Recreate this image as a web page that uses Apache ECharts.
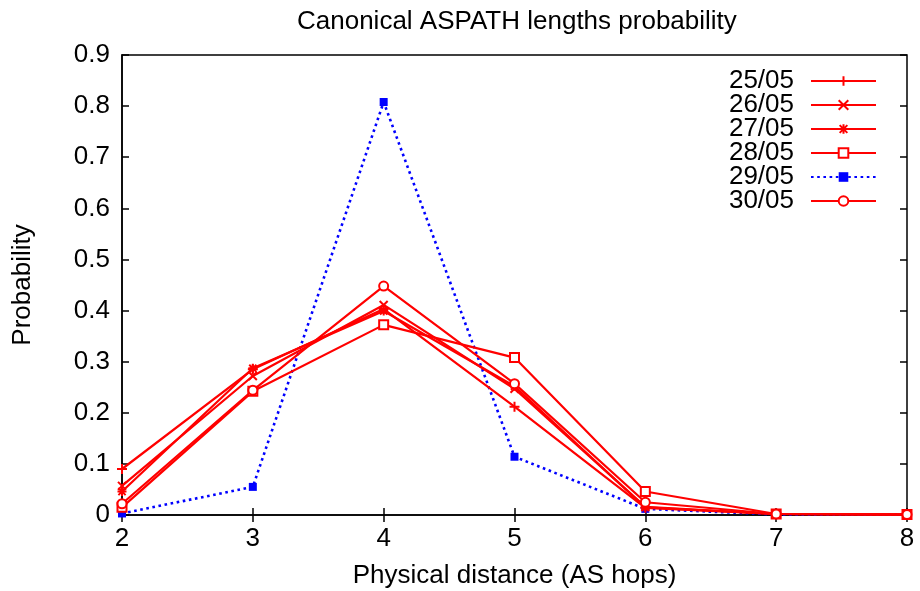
<!DOCTYPE html>
<html><head><meta charset="utf-8">
<script src="https://cdn.jsdelivr.net/npm/echarts@6/dist/echarts.min.js"></script>
<style>html,body{margin:0;padding:0;background:#fff}#c{width:920px;height:591px}</style>
</head><body><div id="c"></div>
<script>
const hops = [2, 3, 4, 5, 6, 7, 8];
const s2505 = [0.090, 0.285, 0.403, 0.212, 0.014, 0.002, 0.001];
const s2605 = [0.057, 0.272, 0.411, 0.247, 0.016, 0.002, 0.001];
const s2705 = [0.046, 0.287, 0.399, 0.252, 0.015, 0.002, 0.001];
const s2805 = [0.015, 0.242, 0.372, 0.308, 0.046, 0.002, 0.001];
const s2905 = [0.003, 0.055, 0.808, 0.114, 0.012, 0.001, 0.001];
const s3005 = [0.022, 0.244, 0.448, 0.257, 0.025, 0.002, 0.001];
const names = ['25/05', '26/05', '27/05', '28/05', '29/05', '30/05'];
const yTicks = [0, 0.1, 0.2, 0.3, 0.4, 0.5, 0.6, 0.7, 0.8, 0.9];

const RED = '#ff0000', BLUE = '#0000ff';
const FONT = 'Liberation Sans';
const plusSym = 'path://M0,5L10,5M5,0L5,10';
const crossSym = 'path://M0,0L10,10M10,0L0,10';
const starSym = 'path://M0,5L10,5M5,0L5,10M1,1L9,9M9,1L1,9';

function pairs(arr){ return hops.map((h,i)=>[h, arr[i]]); }
function redSeries(name, arr, symbol, size, fill){
  return {
    name, type: 'line', data: pairs(arr), symbol, symbolSize: size,
    color: RED,
    lineStyle: {color: RED, width: 2.2},
    itemStyle: {color: fill, borderColor: RED, borderWidth: 2},
    emphasis: {disabled: true}, animation: false, z: 3
  };
}
const series = [
  redSeries(names[0], s2505, plusSym, 10, 'rgba(0,0,0,0)'),
  redSeries(names[1], s2605, crossSym, 8, 'rgba(0,0,0,0)'),
  redSeries(names[2], s2705, starSym, 9, 'rgba(0,0,0,0)'),
  redSeries(names[3], s2805, 'rect', 9, '#ffffff'),
  {
    name: names[4], type: 'line', data: pairs(s2905), symbol: 'rect', symbolSize: 8,
    color: BLUE,
    lineStyle: {color: BLUE, width: 2.6, type: [2.6, 3.6]},
    itemStyle: {color: BLUE, borderColor: BLUE, borderWidth: 0},
    emphasis: {disabled: true}, animation: false, z: 2
  },
  redSeries(names[5], s3005, 'circle', 9, '#ffffff')
];

const chart = echarts.init(document.getElementById('c'), null, {renderer: 'canvas'});
const axisFont = {fontFamily: FONT, fontSize: 26, color: '#000'};
chart.setOption({
  animation: false,
  backgroundColor: '#fff',
  title: {text: 'Canonical ASPATH lengths probability', left: 292, top: 4,
    textStyle: {fontFamily: FONT, fontSize: 26, fontWeight: 'normal', color: '#000'}},
  grid: {left: 122, right: 13, top: 55, bottom: 76, show: true, borderColor: '#000', borderWidth: 1.5,
    backgroundColor: 'transparent', outerBoundsMode: 'none', containLabel: false},
  legend: {
    orient: 'vertical', right: 38, top: 63, align: 'right',
    itemWidth: 65, itemHeight: 12, itemGap: -2,
    data: names,
    textStyle: {fontFamily: FONT, fontSize: 26, color: '#000', lineHeight: 24, padding: [0, 12, 0, 0]}
  },
  xAxis: [{
    type: 'value', min: 2, max: 8, interval: 1,
    name: 'Physical distance (AS hops)', nameLocation: 'middle', nameGap: 48,
    nameTextStyle: axisFont,
    axisLine: {show: true, onZero: false, lineStyle: {color: '#000', width: 1.5}},
    axisTick: {show: true, inside: true, length: 7, lineStyle: {color: '#000', width: 1.5}},
    axisLabel: Object.assign({margin: 11}, axisFont),
    splitLine: {show: false}
  }, {
    type: 'value', min: 2, max: 8, interval: 1, position: 'top',
    axisLine: {show: false}, axisLabel: {show: false}, splitLine: {show: false},
    axisTick: {show: true, inside: true, length: 7, lineStyle: {color: '#000', width: 1.5}}
  }],
  yAxis: [{
    type: 'value', min: 0, max: 0.9, interval: 0.1,
    name: 'Probability', nameLocation: 'middle', nameGap: 86,
    nameTextStyle: axisFont,
    axisLine: {show: true, lineStyle: {color: '#000', width: 1.5}},
    axisTick: {show: true, inside: true, length: 7, lineStyle: {color: '#000', width: 1.5}},
    axisLabel: Object.assign({margin: 12, formatter: v => String(+v.toFixed(1))}, axisFont),
    splitLine: {show: false}
  }, {
    type: 'value', min: 0, max: 0.9, interval: 0.1, position: 'right',
    axisLine: {show: false}, axisLabel: {show: false}, splitLine: {show: false},
    axisTick: {show: true, inside: true, length: 7, lineStyle: {color: '#000', width: 1.5}}
  }],
  series
});
</script></body></html>
